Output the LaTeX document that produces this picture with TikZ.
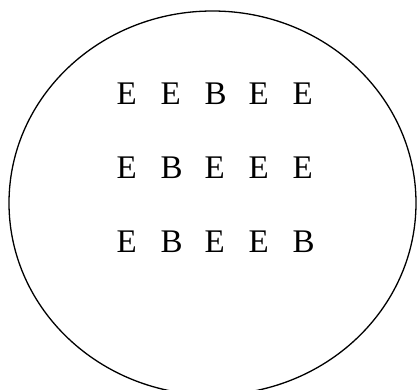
\documentclass[tikz,border=0pt]{standalone}
\usepackage{fontspec}
\setmainfont{Liberation Serif}
\begin{document}
\begin{tikzpicture}[x=1bp,y=1bp,
  letter/.style={anchor=base west,inner sep=0pt,font=\fontsize{33bp}{40bp}\selectfont}]
\useasboundingbox (0,0) rectangle (417,390);
\clip (0,0) rectangle (417,390);
\draw[line width=1.3bp] (212.5,187) ellipse [x radius=203.5, y radius=192];
\foreach \r [count=\j from 0] in {{E,E,B,E,E},{E,B,E,E,E},{E,B,E,E,B}}{
  \foreach \c [count=\i from 0] in \r {
    \node[letter] (l\j\i) at ({116.5+44*\i},{286-74*\j}) {\c};
  }
}
\end{tikzpicture}
\end{document}
